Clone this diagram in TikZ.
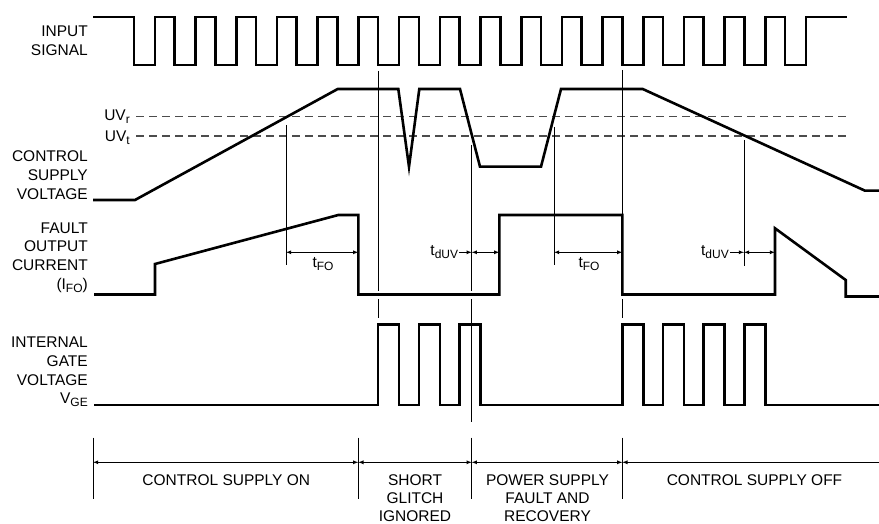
\documentclass[tikz,border=0pt]{standalone}
\usepackage{fontspec}
\setmainfont{Liberation Sans}
\usetikzlibrary{arrows}

\newcommand\lowsub[1]{\raisebox{-3pt}{\fontsize{12}{12}\selectfont #1}}

\tikzset{
  signal/.style={line width=2.6pt, line join=miter},
  vline/.style={line width=0.9pt},
  uvline/.style={line width=1.1pt, black!70, dash pattern=on 8pt off 5pt},
  sigtext/.style={anchor=east, align=right, inner sep=0pt, font=\fontsize{15.5}{18.7}\selectfont},
  spanline/.style={line width=0.8pt, >=latex},
  phase/.style={align=center, inner sep=0pt, font=\fontsize{15.5}{18}\selectfont},
  tlabel/.style={inner sep=0pt, font=\fontsize{15.5}{18}\selectfont},
}

\begin{document}
\begin{tikzpicture}[x=1pt, y=-1pt]

    \useasboundingbox (0,0) rectangle (879,524);

    \node[sigtext] (input) at (88,41) {INPUT\\SIGNAL};
    \node[sigtext] (uvr) at (130,116.3) {UV\lowsub{r}};
    \node[sigtext] (uvt) at (130,137.5) {UV\lowsub{t}};
    \node[sigtext] (supply) at (88,175) {CONTROL\\SUPPLY\\VOLTAGE};
    \node[sigtext] (fault) at (88,257.5) {FAULT\\OUTPUT\\CURRENT\\(I\lowsub{FO})};
    \node[sigtext] (gate) at (88,372) {INTERNAL\\GATE\\VOLTAGE\\V\lowsub{GE}};

    \draw[signal] (93,17) \foreach \k in {0,...,16} {
        -- ({134+40.69*\k},17) -- ({134+40.69*\k},65)
        -- ({155+40.69*\k},65) -- ({155+40.69*\k},17)} -- (847,17);

    \draw[uvline] (136,116.3) -- (847,116.3);
    \draw[uvline] (136,136) -- (847,136);
    \draw[signal] (93,200) -- (135,200) -- (337.7,89) -- (398.3,89)
        -- (409,166.7) -- (419.3,89) -- (460,89) -- (480,166.7)
        -- (541,166.7) -- (561,89) -- (642.7,89) -- (865,190.7) -- (879,190.7);

    \draw[signal] (94,294.5) -- (155,294.5) -- (155,264) -- (338.3,215)
        -- (358.3,215) -- (358.3,294.5) -- (499.3,294.5) -- (499.3,215)
        -- (622.3,215) -- (622.3,294.5) -- (775,294.5) -- (775,228.3)
        -- (845.7,280) -- (845.7,296.5) -- (879,296.5);

    \draw[signal] (94,405) \foreach \k in {6,7,8,12,13,14,15} {
        -- ({134+40.69*\k},405) -- ({134+40.69*\k},324.3)
        -- ({155+40.69*\k},324.3) -- ({155+40.69*\k},405)} -- (879,405);

    \draw[vline] (286,125) -- (286,265);
    \draw[vline] (378.2,71) -- (378.2,291) (378.2,299) -- (378.2,318);
    \draw[vline] (471.7,145) -- (471.7,291) (471.7,299) -- (471.7,421.7);
    \draw[vline] (554,127) -- (554,265);
    \draw[vline] (622.3,70) -- (622.3,291) (622.3,299) -- (622.3,318);
    \draw[vline] (744,140) -- (744,266);
    \foreach \x in {93,358.3,471.7,622.3}
        \draw[vline] (\x,437.7) -- (\x,499.3);

    \coordinate (fo1a) at (286,252.3);
    \coordinate (fo1b) at (358.3,252.3);
    \coordinate (uv1a) at (471.7,252.3);
    \coordinate (uv1b) at (499.3,252.3);
    \coordinate (fo2a) at (554,252.3);
    \coordinate (fo2b) at (622.3,252.3);
    \coordinate (uv2a) at (744,252.3);
    \coordinate (uv2b) at (775,252.3);

    \draw[spanline,<->] (fo1a) -- (fo1b);
    \node[tlabel] (tfo1) at (323,264) {t\lowsub{FO}};
    \node[tlabel, anchor=east] (tuv1) at (458.3,252.3) {t\lowsub{dUV}};
    \draw[spanline,->,shorten <=1pt] (tuv1.east) -- (uv1a);
    \draw[spanline,<->] (uv1a) -- (uv1b);
    \draw[spanline,<->] (fo2a) -- (fo2b);
    \node[tlabel] (tfo2) at (589,264) {t\lowsub{FO}};
    \node[tlabel, anchor=east] (tuv2) at (729,252.3) {t\lowsub{dUV}};
    \draw[spanline,->,shorten <=1pt] (tuv2.east) -- (uv2a);
    \draw[spanline,<->] (uv2a) -- (uv2b);

    \coordinate (ph0) at (93,462.3);
    \coordinate (ph1) at (358.3,462.3);
    \coordinate (ph2) at (471.7,462.3);
    \coordinate (ph3) at (622.3,462.3);
    \coordinate (ph4) at (879,462.3);
    \draw[spanline,<->] (ph0) -- (ph1);
    \draw[spanline,<->] (ph1) -- (ph2);
    \draw[spanline,<->] (ph2) -- (ph3);
    \draw[spanline,<-] (ph3) -- (ph4);

    \node[phase] (on) at (226.3,480) {CONTROL SUPPLY ON};
    \node[phase] (glitch) at (415,498) {SHORT\\GLITCH\\IGNORED};
    \node[phase] (recovery) at (547.5,498) {POWER SUPPLY\\FAULT AND\\RECOVERY};
    \node[phase] (off) at (754.5,480) {CONTROL SUPPLY OFF};

\end{tikzpicture}
\end{document}
